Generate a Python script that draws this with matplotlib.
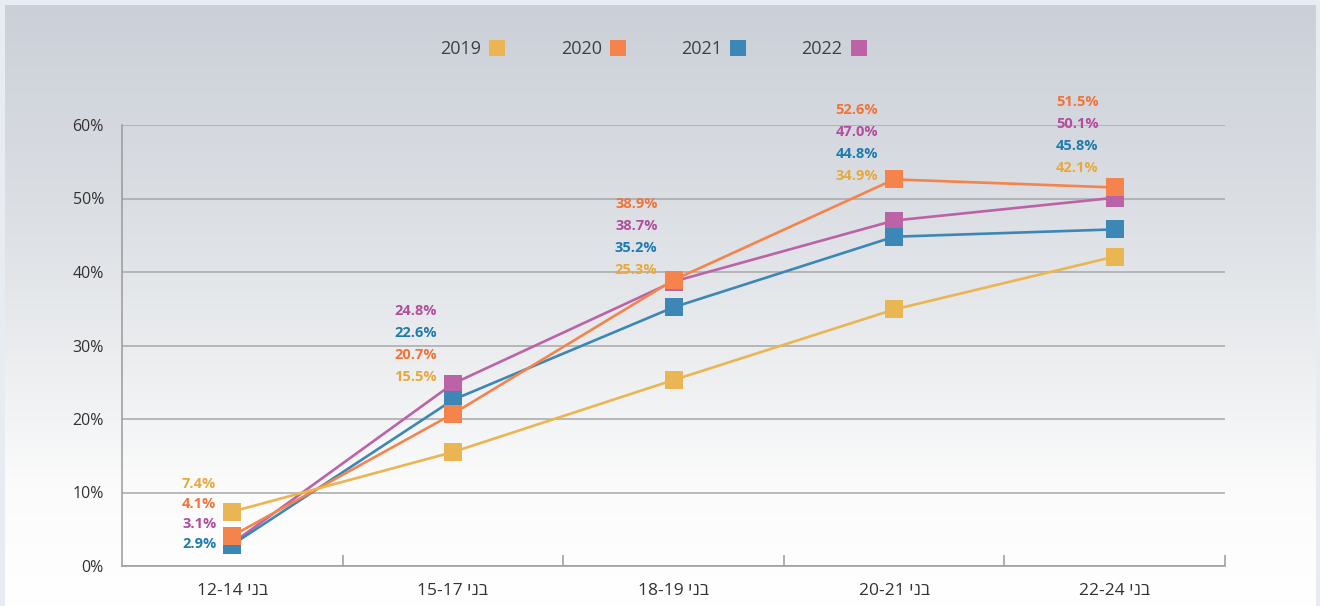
import numpy as np
import matplotlib
matplotlib.use("Agg")
import matplotlib.pyplot as plt
from matplotlib.lines import Line2D
from matplotlib.colors import LinearSegmentedColormap

# data
categories = ["בני 12-14", "בני 15-17", "בני 18-19", "בני 20-21", "בני 22-24"]
years = ["2019", "2020", "2021", "2022"]
v2019 = [7.4, 15.5, 25.3, 34.9, 42.1]
v2020 = [4.1, 20.7, 38.9, 52.6, 51.5]
v2021 = [2.9, 22.6, 35.2, 44.8, 45.8]
v2022 = [3.1, 24.8, 38.7, 47.0, 50.1]
yticks = [0, 10, 20, 30, 40, 50, 60]

# where the stack of value labels starts (data units) above each group
label_top = [11.2, 34.7, 49.3, 62.0, 63.1]
label_step_px = [20, 22, 22, 22, 22]

colors = {"2019": "#EAB553", "2020": "#F5844C", "2021": "#3C87B5", "2022": "#BC63A8"}
text_colors = {"2019": "#E9A93A", "2020": "#F2733A", "2021": "#1D7BAE", "2022": "#B24D9E"}
series = {"2019": v2019, "2020": v2020, "2021": v2021, "2022": v2022}


def visual(label):
    # matplotlib has no bidi, so put hebrew words in display order
    out = []
    for tok in reversed(label.split()):
        if any("\u0590" <= c <= "\u05ff" for c in tok):
            tok = tok[::-1]
        out.append(tok)
    return " ".join(out)


plt.rcParams["font.family"] = ["Open Sans", "DejaVu Sans"]
W, H = 1320, 606
fig = plt.figure(figsize=(W / 100, H / 100), dpi=100)
fig.patch.set_facecolor("#e7ecf2")

# background gradient
bg = fig.add_axes([0, 0, 1, 1], zorder=-5)
bg.set_xlim(0, W)
bg.set_ylim(H, 0)
bg.axis("off")
cmap = LinearSegmentedColormap.from_list(
    "bg", [(0.0, "#cbd0d8"), (0.35, "#dcdfe4"), (0.6, "#eceef0"), (0.8, "#fbfbfb"), (1.0, "#ffffff")])
grad = np.linspace(0, 1, 256).reshape(-1, 1)
bg.imshow(grad, cmap=cmap, extent=[5, 1316, H, 5], aspect="auto", interpolation="bicubic")

ax = fig.add_axes([122 / W, 1 - 566 / H, (1225 - 122) / W, (566 - 125) / H])
ax.set_facecolor("none")
x = np.arange(len(categories))

for yr in reversed(years):
    ax.plot(x, series[yr], color=colors[yr], lw=1.9, marker="s", markersize=12.5,
            markeredgewidth=0, clip_on=False, zorder=3)

# value labels, stacked from highest to lowest
for i in range(len(categories)):
    order = sorted(years, key=lambda yr: series[yr][i], reverse=True)
    for k, yr in enumerate(order):
        ax.annotate("%.1f%%" % series[yr][i], xy=(x[i], label_top[i]),
                    xytext=(-16 * 0.72, -k * label_step_px[i] * 0.72), textcoords="offset points",
                    ha="right", va="center", fontsize=10.5, fontweight="bold",
                    color=text_colors[yr], annotation_clip=False, zorder=4)

ax.set_xlim(-0.5, len(categories) - 0.5)
ax.set_ylim(0, 60)
ax.set_yticks(yticks)
ax.set_yticklabels(["%d%%" % t for t in yticks])
ax.set_xticks(x)
ax.set_xticklabels([visual(c) for c in categories])
ax.set_xticks(np.arange(len(categories)) + 0.5, minor=True)
ax.tick_params(axis="both", which="major", length=0, labelsize=11.5, colors="#333333")
ax.tick_params(axis="x", which="major", pad=12, labelsize=12.5)
ax.tick_params(axis="y", which="major", pad=13)
ax.tick_params(axis="x", which="minor", direction="in", length=8, width=1.1, color="#9a9a9a")
ax.grid(axis="y", color="#a8a8a8", lw=1.1)
ax.set_axisbelow(True)
for s in ["top", "right"]:
    ax.spines[s].set_visible(False)
for s in ["left", "bottom"]:
    ax.spines[s].set_color("#9a9a9a")
    ax.spines[s].set_linewidth(1.1)

handles = [Line2D([], [], ls="none", marker="s", markersize=11, markeredgewidth=0, color=colors[yr])
           for yr in years]
leg = fig.legend(handles, years, loc="center", bbox_to_anchor=(654 / W, 1 - 49 / H), ncol=4,
                 markerfirst=False, frameon=False, handlelength=1.0, handletextpad=0.4,
                 columnspacing=3.0, fontsize=13)
for t in leg.get_texts():
    t.set_color("#404040")

fig.savefig("out.png", dpi=100)
